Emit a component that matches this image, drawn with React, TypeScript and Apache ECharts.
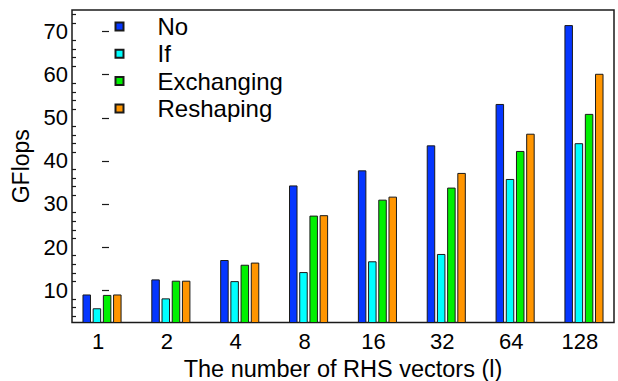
import React, { useEffect, useRef } from "react";
import * as echarts from "echarts";

// RHS vector counts on the x axis
const categories = ["1", "2", "4", "8", "16", "32", "64", "128"];

// GFlops per variant
const noValues = [9.0, 12.5, 17.0, 34.3, 37.8, 43.6, 53.2, 71.5];
const ifValues = [5.8, 8.1, 12.1, 14.2, 16.7, 18.4, 35.8, 44.1];
const exchangingValues = [8.9, 12.2, 15.9, 27.3, 31.0, 33.8, 42.3, 50.9];
const reshapingValues = [9.0, 12.2, 16.4, 27.4, 31.7, 37.2, 46.3, 60.2];

const seriesNames = ["No", "If", "Exchanging", "Reshaping"];
const seriesColors = ["#0536ff", "#00ffff", "#00f000", "#ff9500"];

// y axis ticks
const majorTicks = [10, 20, 30, 40, 50, 60, 70];
const minorTicks = [4, 6, 8, 12, 14, 16, 18, 22, 24, 26, 28, 32, 34, 36, 38, 42, 44, 46, 48, 52, 54, 56, 58, 62, 64, 66, 68, 72, 74];

const FONT = "'Liberation Sans', Arial, Helvetica, sans-serif";

export default function App() {
  const ref = useRef<HTMLDivElement>(null);

  useEffect(() => {
    if (!ref.current) return;
    const chart = echarts.init(ref.current, null, { renderer: "svg" });
    const allValues = [noValues, ifValues, exchangingValues, reshapingValues];
    const xIdx = categories.map((_, i) => i);

    chart.setOption({
      animation: false,
      backgroundColor: "#ffffff",
      textStyle: { fontFamily: FONT, color: "#000" },
      grid: {
        left: 72,
        right: 4,
        top: 10,
        bottom: 58.5,
        outerBoundsMode: "none",
        containLabel: false,
        show: true,
        borderColor: "#1a1a1a",
        borderWidth: 1.5,
        backgroundColor: "transparent",
      },
      legend: {
        orient: "vertical",
        left: 114.5,
        top: 13,
        padding: 0,
        itemGap: 0.3,
        itemWidth: 8,
        itemHeight: 8,
        icon: "rect",
        data: seriesNames,
        textStyle: {
          fontFamily: FONT,
          fontSize: 24,
          lineHeight: 27,
          color: "#000",
          padding: [0, 0, 0, 29],
        },
      },
      xAxis: {
        type: "value",
        min: -0.436,
        max: 7.436,
        axisLine: { show: false },
        axisTick: { show: false },
        splitLine: { show: false },
        axisLabel: {
          customValues: xIdx,
          formatter: (v: number) => categories[Math.round(v)] ?? "",
          fontSize: 22,
          color: "#000",
          margin: 8,
          padding: [0, 8, 0, 0],
        },
        name: "The number of RHS vectors (l)",
        nameLocation: "middle",
        nameGap: 28,
        nameTextStyle: {
          fontSize: 23.5,
          lineHeight: 24,
          verticalAlign: "top",
          color: "#000",
          fontFamily: FONT,
        },
      },
      yAxis: [
        {
          type: "value",
          min: 2.5,
          max: 75,
          position: "left",
          axisLine: { show: false },
          splitLine: { show: false },
          axisTick: {
            show: true,
            inside: true,
            length: 7,
            customValues: majorTicks,
            lineStyle: { color: "#1a1a1a", width: 1.2 },
          },
          axisLabel: {
            customValues: majorTicks,
            fontSize: 22,
            color: "#000",
            margin: 4,
          },
          name: "GFlops",
          nameLocation: "middle",
          nameRotate: 90,
          nameGap: 38,
          nameTextStyle: { fontSize: 23, color: "#000", fontFamily: FONT },
        },
        {
          type: "value",
          min: 2.5,
          max: 75,
          position: "left",
          axisLine: { show: false },
          splitLine: { show: false },
          axisLabel: { show: false },
          axisTick: {
            show: true,
            inside: true,
            length: 4,
            customValues: minorTicks,
            lineStyle: { color: "#1a1a1a", width: 1.2 },
          },
        },
      ],
      series: seriesNames.map((name, s) => ({
        name,
        type: "bar",
        barWidth: 8.5,
        barGap: "20%",
        data: allValues[s].map((v, i) => [i, v]),
        itemStyle: {
          color: seriesColors[s],
          borderColor: "#1a1a1a",
          borderWidth: 1,
        },
      })),
    });

    return () => chart.dispose();
  }, []);

  return (
    <div
      ref={ref}
      style={{ position: "fixed", left: 0, top: 0, width: 618, height: 381 }}
    />
  );
}
